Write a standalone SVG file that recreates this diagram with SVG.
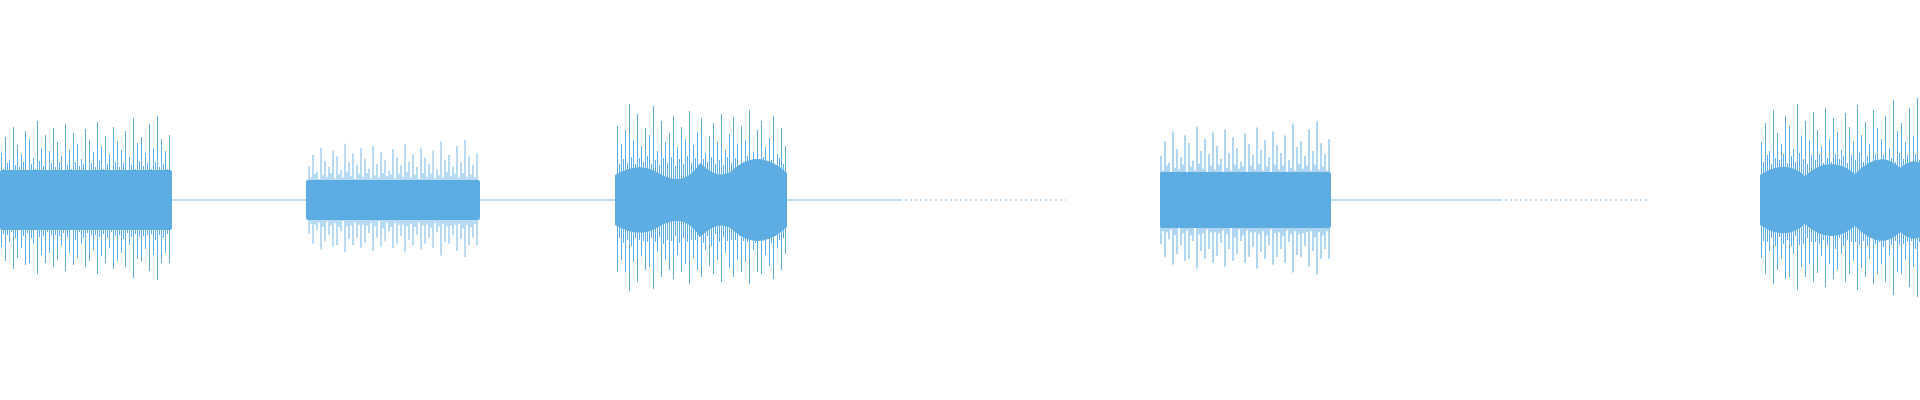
<svg xmlns="http://www.w3.org/2000/svg" width="1920" height="400" viewBox="0 0 1920 400">
<style>.w{stroke:#5DADE2;stroke-width:1;fill:none;shape-rendering:crispEdges}.c{fill:#5DADE2}.t{stroke:#5DADE2;stroke-width:1.2;opacity:.8}</style>
<defs>
<path id="spk" class="w" d="M1 -45V45M5 -60V58M9 -38V40M13 -70V66M17 -52V55M21 -44V46M25 -66V62M29 -58V60M33 -40V42M37 -75V70M41 -50V52M45 -62V60M49 -47V50M53 -69V64M57 -55V57M61 -42V44M65 -72V68M69 -48V50M73 -64V62M77 -53V55M81 -39V42M85 -68V64M89 -57V58M93 -46V48M97 -74V70M101 -51V53M105 -61V60M109 -44V46M113 -70V66M117 -56V58M121 -48V50M125 -66V64M129 -41V43M133 -78V74M137 -54V56M141 -60V58M145 -45V47M149 -72V68M153 -50V52M157 -80V76M161 -58V60M165 -47V50M169 -62V60M3 -30V32M7 -35V33M11 -28V30M15 -33V36M19 -31V29M23 -36V34M27 -29V31M31 -34V36M35 -30V28M39 -37V35M43 -32V34M47 -28V30M51 -35V33M55 -31V33M59 -36V34M63 -29V31M67 -33V35M71 -30V28M75 -36V38M79 -32V30M83 -34V36M87 -29V31M91 -35V33M95 -31V33M99 -37V35M103 -30V32M107 -34V36M111 -28V30M115 -36V34M119 -31V33M123 -35V37M127 -29V31M131 -33V35M135 -30V32M139 -37V35M143 -32V34M147 -35V33M151 -30V32M155 -36V38M159 -31V33M163 -34V36M167 -30V32"/>
</defs>
<g id="connectors">
<line class="t" x1="170" y1="200" x2="307" y2="200"/>
<line class="t" x1="479" y1="200" x2="616" y2="200"/>
<line class="t" x1="786" y1="200" x2="900" y2="200"/>
<line class="t" x1="900" y1="200" x2="1066" y2="200" stroke-dasharray="2 3" opacity=".6"/>
<line class="t" x1="1330" y1="200" x2="1500" y2="200"/>
<line class="t" x1="1500" y1="200" x2="1647" y2="200" stroke-dasharray="2 3" opacity=".6"/>
</g>
<g id="seg1"><rect class="c" x="0" y="170" width="172" height="60" rx="2"/><use href="#spk" transform="translate(0,200) scale(1,1.05)"/></g>
<g id="seg2"><rect class="c" x="306" y="180" width="174" height="40" rx="2"/><use href="#spk" transform="translate(308,200) scale(1,0.75)"/></g>
<g id="seg3"><path class="c" d="M615 175Q640 160 660 174Q685 188 700 163Q720 183 735 168Q760 148 787 173V227Q760 252 735 232Q720 217 700 237Q685 212 660 226Q640 240 615 225Z"/><use href="#spk" transform="translate(786,200) scale(-1,1.2)"/></g>
<g id="seg4"><rect class="c" x="1160" y="172" width="171" height="56" rx="2"/><use href="#spk" transform="translate(1160,200) scale(1,0.98)"/></g>
<g id="seg5"><path class="c" d="M1760 175Q1785 158 1805 176Q1830 153 1855 174Q1880 148 1900 168Q1912 158 1920 163V237Q1912 242 1900 232Q1880 252 1855 226Q1830 247 1805 224Q1785 242 1760 225Z"/><use href="#spk" transform="translate(1760,200) scale(1,1.28)"/></g>
</svg>
